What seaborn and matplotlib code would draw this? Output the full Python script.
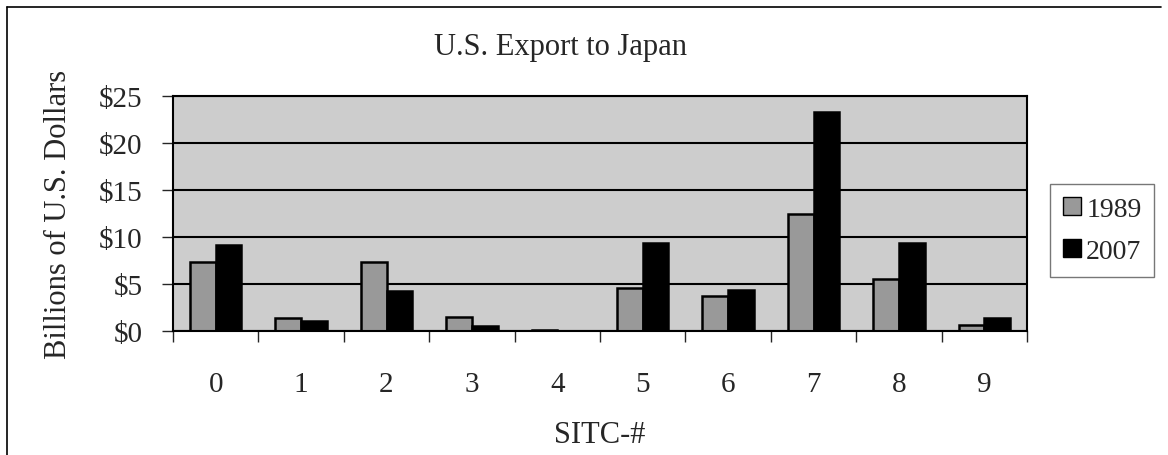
import pandas as pd
import seaborn as sns
import matplotlib.pyplot as plt
from matplotlib.ticker import FuncFormatter, FixedLocator
from matplotlib.lines import Line2D

# data (billions of US dollars)
sitc = ["0", "1", "2", "3", "4", "5", "6", "7", "8", "9"]
exp_1989 = [7.3, 1.4, 7.3, 1.5, 0.1, 4.6, 3.7, 12.4, 5.5, 0.6]
exp_2007 = [9.2, 1.1, 4.3, 0.5, 0.05, 9.4, 4.4, 23.3, 9.4, 1.4]
years = ["1989", "2007"]
y_ticks = [0, 5, 10, 15, 20, 25]

df = pd.DataFrame({
    "sitc": sitc * 2,
    "value": exp_1989 + exp_2007,
    "year": [years[0]] * len(sitc) + [years[1]] * len(sitc),
})

sns.set_style("white")
plt.rcParams["font.family"] = ["Liberation Serif", "DejaVu Serif"]

fig = plt.figure(figsize=(11.68, 4.56), dpi=100)
ax = fig.add_axes([173 / 1168, 1 - 332 / 456, 854 / 1168, 235 / 456])
ax.set_facecolor("#cdcdcd")

sns.barplot(data=df, x="sitc", y="value", hue="year", order=sitc,
            palette={"1989": "#999999", "2007": "#000000"},
            edgecolor="black", linewidth=1.8, width=0.6, ax=ax, legend=False)

# horizontal grid lines
ax.set_ylim(0, 25)
ax.yaxis.set_major_locator(FixedLocator(y_ticks))
ax.yaxis.set_major_formatter(FuncFormatter(lambda v, p: "$%d" % v))
ax.grid(axis="y", color="black", linewidth=1.5)
ax.set_axisbelow(True)

# ticks between categories, labels at centers
ax.set_xlim(-0.5, len(sitc) - 0.5)
ax.set_xticks([i - 0.5 for i in range(len(sitc) + 1)])
ax.set_xticklabels([])
ax.set_xticks(range(len(sitc)), minor=True)
ax.set_xticklabels(sitc, minor=True)
ax.tick_params(axis="x", which="major", direction="out", length=8, width=1, bottom=True)
ax.tick_params(axis="x", which="minor", length=0, pad=29, labelsize=21)
ax.tick_params(axis="y", direction="out", length=8, width=1, left=True, pad=14, labelsize=21)

for s in ["left", "bottom", "top", "right"]:
    ax.spines[s].set_color("black")
    ax.spines[s].set_linewidth(1.5)

ax.set_xlabel("SITC-#", fontsize=22)
ax.xaxis.set_label_coords(0.5, -0.38)
ax.set_ylabel("Billions of U.S. Dollars", fontsize=22)
ax.yaxis.set_label_coords(-0.117, 0.5)

fig.text(560 / 1168, 1 - 48 / 456, "U.S. Export to Japan", fontsize=22,
         ha="center", va="center")

handles = [
    Line2D([], [], marker="s", linestyle="none", markersize=13,
           markerfacecolor="#999999", markeredgecolor="black"),
    Line2D([], [], marker="s", linestyle="none", markersize=13,
           markerfacecolor="black", markeredgecolor="black"),
]
leg = fig.legend(handles, years, loc="upper left",
                 bbox_to_anchor=(1050 / 1168, 1 - 185 / 456),
                 fontsize=20, frameon=True, fancybox=False, handlelength=0.7,
                 handletextpad=0.15, borderpad=0.45, labelspacing=0.6,
                 borderaxespad=0)
leg.get_frame().set_edgecolor("#555555")
leg.get_frame().set_linewidth(1)

# outer chart frame
fig.add_artist(Line2D([7 / 1168, 7 / 1168], [0, 1 - 8 / 456], color="black", linewidth=1.2))
fig.add_artist(Line2D([7 / 1168, 1161 / 1168], [1 - 8 / 456, 1 - 8 / 456], color="black", linewidth=1.2))

fig.savefig("out.png", dpi=100)
